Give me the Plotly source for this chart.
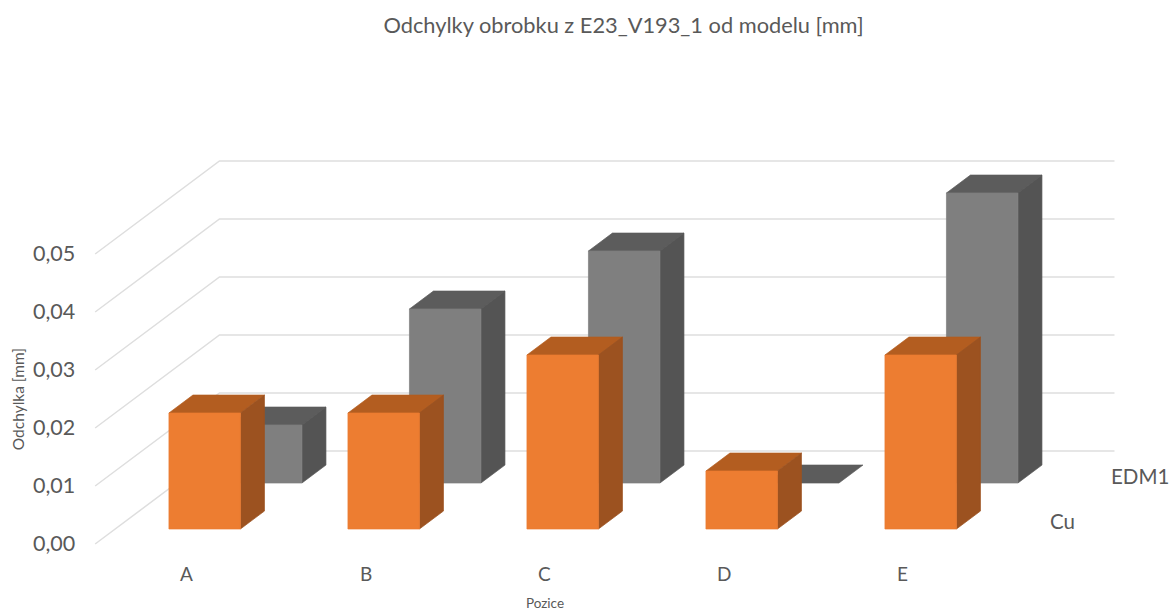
import plotly.graph_objects as go

# ---- data ----
categories = ["A", "B", "C", "D", "E"]
series_names = ["Cu", "EDM1"]
cu_values = [0.02, 0.02, 0.03, 0.01, 0.03]
edm1_values = [0.01, 0.03, 0.04, 0.00, 0.05]
value_ticks = [0.00, 0.01, 0.02, 0.03, 0.04, 0.05]
tick_labels = ["0,00", "0,01", "0,02", "0,03", "0,04", "0,05"]

# ---- oblique projection, in axis units ----
W, H = 1172, 611
PX_PER_CAT = 179.0
PX_PER_VAL = 5800.0
CAT0_PX = 204.7      # pixel of category 0 on the front plane
BASE_PX = 529.0      # pixel of value 0 on the front plane
SERIES_DX, SERIES_DY = 61.5 / PX_PER_CAT, 46.0 / PX_PER_VAL
BAR_W = 71.5 / PX_PER_CAT
BAR_DEPTH = 24.0 / 61.5
WALL_BACK, WALL_FRONT = 1.696, -0.326


def proj(cat, val, depth):
    return cat + depth * SERIES_DX, val + depth * SERIES_DY


def faces(values, s):
    top, side, front = ([], []), ([], []), ([], [])
    for i, v in enumerate(values):
        l, r = i - BAR_W / 2, i + BAR_W / 2
        d0, d1 = s, s + BAR_DEPTH
        polys = [
            (top, [(l, v, d0), (r, v, d0), (r, v, d1), (l, v, d1)]),
            (side, [(r, 0, d0), (r, v, d0), (r, v, d1), (r, 0, d1)]),
            (front, [(l, 0, d0), (r, 0, d0), (r, v, d0), (l, v, d0)]),
        ]
        for target, pts in polys:
            if v == 0 and target is not top:
                continue
            for p in pts + pts[:1]:
                x, y = proj(*p)
                target[0].append(x)
                target[1].append(y)
            target[0].append(None)
            target[1].append(None)
    return top, side, front


fig = go.Figure()

# gridlines: along the side wall, then along the back wall
grid_x, grid_y = [], []
for v in value_ticks:
    for p in [(-0.5, v, WALL_FRONT), (-0.5, v, WALL_BACK), (4.5, v, WALL_BACK)]:
        x, y = proj(*p)
        grid_x.append(x)
        grid_y.append(y)
    grid_x.append(None)
    grid_y.append(None)
fig.add_trace(go.Scatter(x=grid_x, y=grid_y, mode="lines",
                         line=dict(color="#DEDEDE", width=1.5),
                         hoverinfo="skip", showlegend=False))

palettes = {
    "EDM1": ("#5C5C5C", "#545454", "#7F7F7F"),
    "Cu": ("#B35D20", "#9C5220", "#ED7D31"),
}
for name, values, s in [("EDM1", edm1_values, 1), ("Cu", cu_values, 0)]:
    for (xs, ys), colour in zip(faces(values, s), palettes[name]):
        if xs:
            fig.add_trace(go.Scatter(x=xs, y=ys, mode="lines", fill="toself",
                                     fillcolor=colour,
                                     line=dict(width=0.7, color=colour, simplify=False),
                                     name=name, hoverinfo="name", showlegend=False))

TXT = "#595959"
FONT = "Lato"


def label(x_cat, y_val, text, size, **kw):
    fig.add_annotation(x=x_cat, y=y_val, xref="x", yref="y", text=text, showarrow=False,
                       font=dict(family=FONT, size=size, color=TXT), **kw)


# value labels, right aligned next to the front ends of the gridlines
for v, t in zip(value_ticks, tick_labels):
    x, y = proj(-0.5, v, WALL_FRONT)
    label(x - 18 / PX_PER_CAT, y + 1.5 / PX_PER_VAL, t, 21.5, xanchor="right", yanchor="middle")

# category labels on the floor
for i, c in enumerate(categories):
    label(i - 18 / PX_PER_CAT, -44 / PX_PER_VAL, c, 19, xanchor="center", yanchor="middle")

# series labels at the end of the depth axis
label(4.5 + 38 / PX_PER_CAT, 8.5 / PX_PER_VAL, series_names[0], 20.5, xanchor="left", yanchor="middle")
x1, y1 = proj(4.5, 0, 1)
label(x1 + 37 / PX_PER_CAT, y1 + 7.5 / PX_PER_VAL, series_names[1], 20.5, xanchor="left", yanchor="middle")

# axis titles
label(-0.5 - 97 / PX_PER_CAT, 130 / PX_PER_VAL, "Odchylka [mm]", 15.5, xanchor="center", yanchor="middle", textangle=-90)
label((545 - CAT0_PX) / PX_PER_CAT, (BASE_PX - 602.5) / PX_PER_VAL, "Pozice", 13.5, xanchor="center", yanchor="middle")

fig.update_layout(
    width=W, height=H,
    margin=dict(l=0, r=0, t=0, b=0),
    paper_bgcolor="white", plot_bgcolor="white",
    showlegend=False,
    title=dict(text="Odchylky obrobku z E23_V193_1 od modelu [mm]",
               x=623.5 / W, xanchor="center", y=1 - 25.5 / H, yanchor="middle",
               font=dict(family=FONT, size=21.8, color=TXT)),
    xaxis=dict(range=[-CAT0_PX / PX_PER_CAT, (W - CAT0_PX) / PX_PER_CAT], visible=False, fixedrange=True),
    yaxis=dict(range=[(BASE_PX - H) / PX_PER_VAL, BASE_PX / PX_PER_VAL], visible=False, fixedrange=True),
)

fig.write_html("out.html", config={"displayModeBar": False},
               post_script="document.body.style.margin='0';document.documentElement.style.overflow='hidden';")
